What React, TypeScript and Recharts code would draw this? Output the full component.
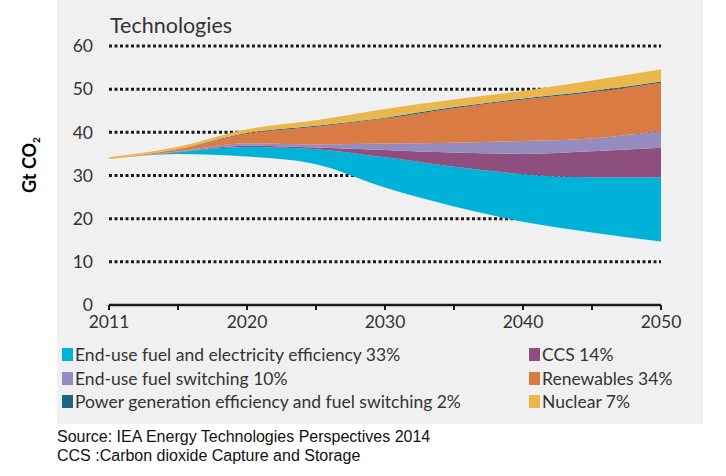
import React from 'react';
import { AreaChart, Area, XAxis, YAxis, CartesianGrid } from 'recharts';

const years = ['2011', '2015', '2020', '2025', '2030', '2035', '2040', '2045', '2050'];
const shownYears = ['2011', '2020', '2030', '2040', '2050'];

// remaining emissions (unfilled bottom of the stack)
const remaining = [33.8, 35.0, 34.4, 32.6, 27.2, 22.8, 19.3, 16.8, 14.7];
// reductions by technology, Gt CO2
const endUseEfficiency = [0, 0.4, 2.2, 3.5, 7.0, 9.2, 11.0, 12.8, 14.9];
const ccs = [0, 0.1, 0.3, 0.4, 1.7, 3.3, 4.7, 6.0, 6.8];
const fuelSwitching = [0, 0.1, 0.6, 0.7, 1.5, 2.3, 3.0, 3.0, 3.9];
const renewables = [0.1, 0.5, 2.2, 4.1, 5.8, 8.0, 9.6, 10.7, 11.2];
const powerGen = [0, 0.05, 0.15, 0.2, 0.2, 0.25, 0.25, 0.25, 0.25];
const nuclear = [0.3, 0.5, 0.85, 1.3, 2.0, 1.75, 1.75, 2.45, 2.85];

const yTicks = [0, 10, 20, 30, 40, 50, 60];
const gridValues = [10, 20, 30, 40, 50, 60];

const data = years.map((y, i) => ({
  year: y,
  remaining: remaining[i],
  endUseEfficiency: endUseEfficiency[i],
  ccs: ccs[i],
  fuelSwitching: fuelSwitching[i],
  renewables: renewables[i],
  powerGen: powerGen[i],
  nuclear: nuclear[i],
}));

const COLORS = {
  endUseEfficiency: '#00b2d8',
  ccs: '#8f4f7e',
  fuelSwitching: '#968bbe',
  renewables: '#da7b44',
  powerGen: '#1b6585',
  nuclear: '#e9b74b',
};

const leftLegend = [
  { label: 'End-use fuel and electricity efficiency 33%', color: COLORS.endUseEfficiency },
  { label: 'End-use fuel switching 10%', color: COLORS.fuelSwitching },
  { label: 'Power generation efficiency and fuel switching 2%', color: COLORS.powerGen },
];
const rightLegend = [
  { label: 'CCS 14%', color: COLORS.ccs },
  { label: 'Renewables 34%', color: COLORS.renewables },
  { label: 'Nuclear 7%', color: COLORS.nuclear },
];

const font = 'Lato, "Open Sans", sans-serif';

const LegendItem = ({ label, color, top, left }: { label: string; color: string; top: number; left: number }) => (
  <div style={{ position: 'absolute', top, left, display: 'flex', alignItems: 'center', fontFamily: font, fontSize: 17.5, color: '#333', whiteSpace: 'nowrap' }}>
    <span style={{ width: 11, height: 13, background: color, display: 'inline-block', marginRight: 2 }} />
    <span>{label}</span>
  </div>
);

export default function App() {
  return (
    <div style={{ position: 'absolute', left: 0, top: 0, width: 726, height: 476, background: '#fff', overflow: 'hidden' }}>
      {/* grey panel */}
      <div style={{ position: 'absolute', left: 57, top: 0, width: 646, height: 424, background: '#f0f0f0' }} />

      <div style={{ position: 'absolute', left: 110, top: 12, fontFamily: font, fontSize: 21.5, color: '#333' }}>Technologies</div>

      <div style={{
        position: 'absolute', left: 30, top: 165, transform: 'translate(-50%, -50%) rotate(-90deg)',
        fontFamily: font, fontWeight: 700, fontSize: 18, color: '#000', whiteSpace: 'nowrap',
      }}>
        Gt CO<sub style={{ fontSize: 10 }}>2</sub>
      </div>

      <div style={{ position: 'absolute', left: 0, top: 0 }}>
        <AreaChart width={726} height={476} data={data} margin={{ top: 46, right: 65, left: 49, bottom: 141 }}>
          <CartesianGrid horizontal vertical={false} horizontalValues={gridValues} stroke="#1a1a1a" strokeWidth={3} strokeDasharray="3 2.5" />
          <XAxis
            dataKey="year"
            height={30}
            interval={0}
            tickSize={5}
            tickLine={{ stroke: '#1a1a1a', strokeWidth: 2 }}
            axisLine={{ stroke: '#1a1a1a', strokeWidth: 2.5 }}
            tickFormatter={(v: string) => (shownYears.includes(v) ? v : '')}
            tick={{ fill: '#333', fontSize: 17.5, fontFamily: font, dy: 4 }}
          />
          <YAxis
            width={60}
            domain={[0, 60]}
            ticks={yTicks}
            axisLine={false}
            tickLine={false}
            tickSize={0}
            tickMargin={16}
            tick={{ fill: '#333', fontSize: 17.5, fontFamily: font }}
          />
          <Area type="monotone" dataKey="remaining" stackId="1" stroke="none" fill="none" isAnimationActive={false} />
          <Area type="monotone" dataKey="endUseEfficiency" stackId="1" stroke="none" fill={COLORS.endUseEfficiency} fillOpacity={1} isAnimationActive={false} />
          <Area type="monotone" dataKey="ccs" stackId="1" stroke="none" fill={COLORS.ccs} fillOpacity={1} isAnimationActive={false} />
          <Area type="monotone" dataKey="fuelSwitching" stackId="1" stroke="none" fill={COLORS.fuelSwitching} fillOpacity={1} isAnimationActive={false} />
          <Area type="monotone" dataKey="renewables" stackId="1" stroke="none" fill={COLORS.renewables} fillOpacity={1} isAnimationActive={false} />
          <Area type="monotone" dataKey="powerGen" stackId="1" stroke="none" fill={COLORS.powerGen} fillOpacity={1} isAnimationActive={false} />
          <Area type="monotone" dataKey="nuclear" stackId="1" stroke="none" fill={COLORS.nuclear} fillOpacity={1} isAnimationActive={false} />
        </AreaChart>
      </div>

      {leftLegend.map((item, i) => (
        <LegendItem key={item.label} label={item.label} color={item.color} top={344 + i * 23.5} left={62} />
      ))}
      {rightLegend.map((item, i) => (
        <LegendItem key={item.label} label={item.label} color={item.color} top={344 + i * 23.5} left={529} />
      ))}

      <div style={{ position: 'absolute', left: 57, top: 427, fontFamily: '"Liberation Sans", Arial, sans-serif', fontSize: 16, color: '#111', lineHeight: '19px' }}>
        <div>Source: IEA Energy Technologies Perspectives 2014</div>
        <div>CCS :Carbon dioxide Capture and Storage</div>
      </div>
    </div>
  );
}
